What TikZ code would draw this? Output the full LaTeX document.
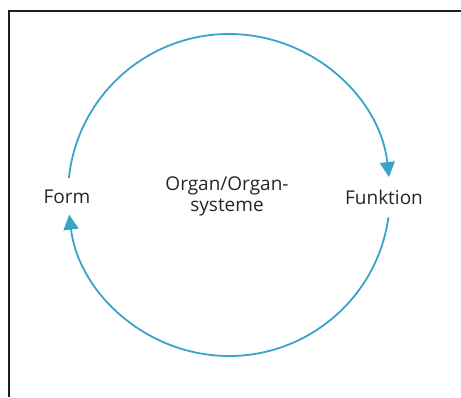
\documentclass[tikz,border=0pt]{standalone}
\usepackage{fontspec}
\setmainfont{Open Sans}
\usetikzlibrary{arrows.meta,calc}
\definecolor{cycleBlue}{HTML}{3AA3C8}
\definecolor{frameRule}{HTML}{1E1E1E}
\tikzset{
  cycle arc/.style={draw=cycleBlue, line width=1.8pt,
    -{Triangle[length=15pt,width=15pt]}},
  label text/.style={font=\fontsize{19}{21}\selectfont, text=black!85, align=center}
}

\begin{document}
\begin{tikzpicture}[x=1pt,y=1pt]
\useasboundingbox (0,0) rectangle (461,397);

% frame: only top and left edges show
\draw[frameRule, line width=2pt] (9,0) |- (461,386);

% centre of the cycle
\coordinate (mitte) at (229,202);

\node[label text] (form) at (67,200) {Form};
\node[label text] (funktion) at (384,200) {Funktion};
\node[label text] (organ) at (227,201) {Organ/Organ-\\systeme};

% upper half: Form to Funktion
\draw[cycle arc] ($(mitte)+(174:161)$)
  arc[start angle=174, end angle=6.4, radius=161];
% lower half: Funktion back to Form
\draw[cycle arc] ($(mitte)+(352:161)$)
  arc[start angle=352, end angle=187, radius=161];

\end{tikzpicture}
\end{document}
